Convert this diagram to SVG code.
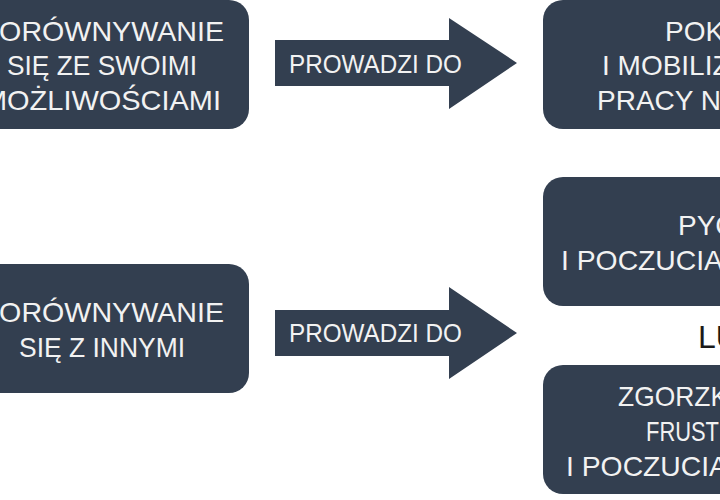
<svg xmlns="http://www.w3.org/2000/svg" width="720" height="500" viewBox="0 0 720 500">
<style>
.box{fill:#333F50}
.arrow{fill:#333F50}
.t{font-family:"Liberation Sans","DejaVu Sans",sans-serif;font-size:28px;fill:#F2F2F2}
.lab{font-family:"Liberation Sans","DejaVu Sans",sans-serif;font-size:25px;fill:#F2F2F2}
.or{font-family:"Liberation Sans","DejaVu Sans",sans-serif;font-size:32px;fill:#1a1a1a}
</style>
<rect width="720" height="500" fill="#ffffff"/>
<g id="node-swoimi">
<rect class="box" x="-60" y="0" width="309" height="129" rx="20"/>
<text class="t" x="102" y="41" text-anchor="middle" textLength="244" lengthAdjust="spacingAndGlyphs">PORÓWNYWANIE</text>
<text class="t" x="102" y="75" text-anchor="middle" textLength="190" lengthAdjust="spacingAndGlyphs">SIĘ ZE SWOIMI</text>
<text class="t" x="102" y="110" text-anchor="middle" textLength="238" lengthAdjust="spacingAndGlyphs">MOŻLIWOŚCIAMI</text>
</g>
<g id="node-innymi">
<rect class="box" x="-60" y="264" width="309" height="129" rx="20"/>
<text class="t" x="102" y="322" text-anchor="middle" textLength="244" lengthAdjust="spacingAndGlyphs">PORÓWNYWANIE</text>
<text class="t" x="102" y="357" text-anchor="middle" textLength="166" lengthAdjust="spacingAndGlyphs">SIĘ Z INNYMI</text>
</g>
<g id="node-pok">
<rect class="box" x="543" y="0" width="300" height="129" rx="20"/>
<text class="t" x="665" y="41">POK</text>
<text class="t" x="602" y="75">I MOBILIZ</text>
<text class="t" x="597" y="110">PRACY N</text>
</g>
<g id="node-pyc">
<rect class="box" x="543" y="177" width="300" height="129" rx="20"/>
<text class="t" x="678" y="235">PYC</text>
<text class="t" x="561" y="270" textLength="162" lengthAdjust="spacingAndGlyphs">I POCZUCIA</text>
</g>
<g id="node-lub">
<text class="or" x="698" y="348">LU</text>
</g>
<g id="node-zgorzk">
<rect class="box" x="543" y="365" width="300" height="129" rx="20"/>
<text class="t" x="618" y="406" textLength="110" lengthAdjust="spacingAndGlyphs">ZGORZK</text>
<text class="t" x="646" y="441" textLength="73" lengthAdjust="spacingAndGlyphs">FRUST</text>
<text class="t" x="566" y="476" textLength="162" lengthAdjust="spacingAndGlyphs">I POCZUCIA</text>
</g>
<g id="connectors">
<g id="arrow-top">
<path class="arrow" d="M275,40 H449 V18 L517,63 L449,109 V86 H275 Z"/>
<text class="lab" x="289" y="73" textLength="173" lengthAdjust="spacingAndGlyphs">PROWADZI DO</text>
</g>
<g id="arrow-bottom">
<path class="arrow" d="M275,310 H449 V287 L517,333 L449,379 V356 H275 Z"/>
<text class="lab" x="289" y="342" textLength="173" lengthAdjust="spacingAndGlyphs">PROWADZI DO</text>
</g>
</g>
</svg>
